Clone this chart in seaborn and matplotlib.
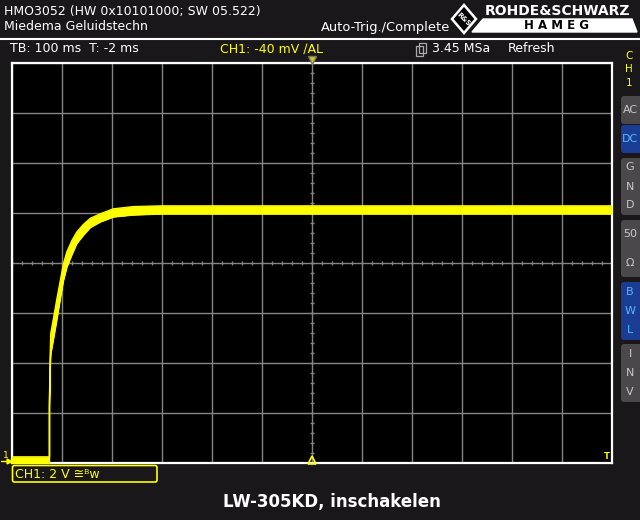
import numpy as np
import matplotlib
matplotlib.use("Agg")
import matplotlib.pyplot as plt
import seaborn as sns
from matplotlib.patches import FancyBboxPatch, Polygon, Rectangle

# ---- data (time in ms, CH1 in V, 2 V/div, 100 ms/div)
time_ms = [-600, -524.8, -524.8, -523.4, -522.0, -517, -510, -503, -497,
           -490, -480, -470, -457, -443, -423, -397, -357, -300, 600]
trace_hi = [0.26, 0.26, 2.30, 4.2, 5.2, 5.75, 6.55, 7.3, 7.95, 8.45, 8.9,
            9.25, 9.55, 9.8, 9.98, 10.18, 10.27, 10.3, 10.3]
trace_lo = [0.00, 0.00, 2.20, 3.8, 4.4, 4.95, 5.75, 6.6, 7.3, 7.85, 8.35,
            8.8, 9.13, 9.44, 9.66, 9.86, 9.94, 9.98, 9.98]

x_ticks = list(range(-600, 601, 100))
y_ticks = list(range(0, 17, 2))

header_1 = "HMO3052 (HW 0x10101000; SW 05.522)"
header_2 = "Miedema Geluidstechn"
trig_state = "Auto-Trig./Complete"
tb_text = "TB: 100 ms  T: -2 ms"
ch_text = "CH1: -40 mV ∕AL"
sa_text = "3.45 MSa"
mode_text = "Refresh"
ch_box = "CH1: 2 V ≅ᴮw"
title = "LW-305KD, inschakelen"

# side buttons: (letters, top px, bottom px, active)
buttons = [
    (["AC"], 96, 124, False),
    (["DC"], 125, 153, True),
    (["G", "N", "D"], 158, 215, False),
    (["50", "Ω"], 220, 277, False),
    (["B", "W", "L"], 282, 340, True),
    (["I", "N", "V"], 344, 402, False),
]

BG = "#1a171a"
GRID = "#858585"
YEL = "#ffff00"
W, H = 640, 520

sns.set_theme(style="dark")
plt.rcParams["font.family"] = ["DejaVu Sans"]

fig = plt.figure(figsize=(6.4, 5.2), dpi=100, facecolor=BG)
ax = fig.add_axes([11.7 / W, 1 - 463.3 / H, 600 / W, 400 / H])
ax.set_facecolor("black")

# graticule
ax.set_xlim(-600, 600)
ax.set_ylim(0, 16)
ax.set_xticks(x_ticks)
ax.set_yticks(y_ticks)
ax.grid(True, color=GRID, lw=1.0)
ax.tick_params(length=0, labelbottom=False, labelleft=False)
ax.set_xlabel("")
ax.set_ylabel("")
for s in ax.spines.values():
    s.set_color("white")
    s.set_linewidth(1.6)
    s.set_visible(True)

# minor marks on the centre cross
mx = np.arange(-600, 601, 20)
ax.plot(mx, np.full(len(mx), 8.0), ls="none", marker="|", ms=3.5,
        mew=1.0, color=GRID, zorder=2)
my = np.arange(0, 16.01, 0.4)
ax.plot(np.zeros(len(my)), my, ls="none", marker="_", ms=3.5,
        mew=1.0, color=GRID, zorder=2)

# trace (envelope of the noisy band)
ax.fill_between(time_ms, trace_lo, trace_hi, facecolor=YEL, edgecolor=YEL,
                lw=0.6, zorder=4)
sns.lineplot(x=time_ms, y=trace_hi, ax=ax, color=YEL, lw=0.9,
             estimator=None, sort=False, zorder=5)
sns.lineplot(x=time_ms, y=trace_lo, ax=ax, color=YEL, lw=0.9,
             estimator=None, sort=False, zorder=5)

# trigger markers
ax.plot([0], [16.12], marker="v", ms=6, color="#d8c800", mec="#777777",
        clip_on=False, zorder=6)
ax.plot([0], [0.12], marker="^", ms=6, mfc="none", mec=YEL, mew=1.2,
        clip_on=False, zorder=6)
ax.text(590, 0.1, "T", color=YEL, fontsize=6, ha="center", va="bottom",
        fontweight="bold", zorder=6)

# ---- screen furniture (pixel placement)
def fx(x):
    return x / W


def fy(y):
    return 1 - y / H


def inch(x, y):
    return (x / 100.0, (H - y) / 100.0)


T = fig.dpi_scale_trans

fig.text(fx(4), fy(11), header_1, color="white", fontsize=9, va="center")
fig.text(fx(4), fy(27), header_2, color="white", fontsize=9, va="center")
fig.text(fx(321), fy(27), trig_state, color="white", fontsize=9.4, va="center")
fig.lines.append(plt.Line2D([0, 1], [fy(39), fy(39)], color="white", lw=1.5,
                            transform=fig.transFigure))

fig.text(fx(10), fy(49), tb_text, color="white", fontsize=9, va="center")
fig.text(fx(220), fy(49), ch_text, color=YEL, fontsize=9, va="center")
fig.text(fx(432), fy(49), sa_text, color="white", fontsize=9, va="center")
fig.text(fx(508), fy(49), mode_text, color="white", fontsize=9, va="center")
for dx in (0, 3):
    fig.patches.append(Rectangle(inch(416 + dx, 56 - dx), 0.07, 0.10,
                                 fill=False, ec="#aaaaaa", lw=0.9,
                                 transform=T))

# R&S / HAMEG logo
fig.patches.append(Polygon([inch(464, 5), inch(476, 19), inch(464, 33),
                            inch(452, 19)], closed=True, fc="black",
                           ec="white", lw=1.8, transform=T))
fig.text(fx(464), fy(19), "R&S", color="white", fontsize=5, rotation=-45,
         ha="center", va="center", fontweight="bold")
fig.text(fx(558), fy(11), "ROHDE&SCHWARZ", color="white", fontsize=10,
         fontweight="bold", ha="center", va="center")
fig.patches.append(Polygon([inch(483, 19), inch(632, 19), inch(637, 32),
                            inch(472, 32)], closed=True, fc="white",
                           ec="white", transform=T))
fig.text(fx(556), fy(25.5), "H A M E G", color="black", fontsize=8.5,
         fontweight="bold", ha="center", va="center")

# channel label + side buttons
for i, ch in enumerate("CH1"):
    fig.text(fx(629), fy(56 + 13.5 * i), ch, color=YEL, fontsize=7.5,
             ha="center", va="center")

for letters, y0, y1, active in buttons:
    fc = "#1b3c93" if active else "#4a484a"
    tc = "#56b8f5" if active else "#c8c8c8"
    fig.patches.append(FancyBboxPatch(inch(621, y1), 0.30, (y1 - y0) / 100.0,
                                      boxstyle="round,pad=0,rounding_size=0.03",
                                      fc=fc, ec="none", transform=T))
    n = len(letters)
    step = (y1 - y0) / n
    for k, lt in enumerate(letters):
        fig.text(fx(630), fy(y0 + step * (k + 0.5)), lt, color=tc,
                 fontsize=8, ha="center", va="center")

# ground marker
fig.text(fx(3), fy(456), "1", color=YEL, fontsize=6.5, ha="left", va="center")
fig.lines.append(plt.Line2D([fx(1), fx(8)], [fy(461), fy(461)], color=YEL,
                            lw=1.0, transform=fig.transFigure))
fig.lines.append(plt.Line2D([fx(9)], [fy(461)], marker=">", ms=3.5,
                            color=YEL, transform=fig.transFigure))

# bottom channel box
fig.patches.append(FancyBboxPatch(inch(12.5, 482), 1.445, 0.165,
                                  boxstyle="round,pad=0,rounding_size=0.02",
                                  fill=False, ec=YEL, lw=1.2, transform=T))
fig.text(fx(15), fy(474), ch_box, color=YEL, fontsize=9, va="center")

fig.text(fx(332), fy(502), title, color="white", fontsize=12,
         fontweight="bold", ha="center", va="center")

fig.savefig("out.png", dpi=100, facecolor=BG)
